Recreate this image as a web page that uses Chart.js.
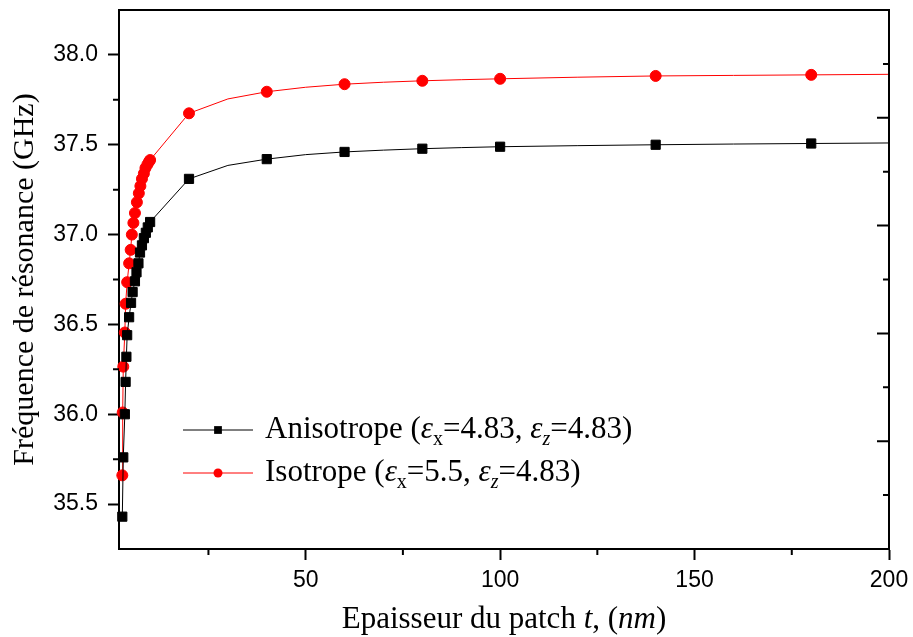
<!DOCTYPE html>
<html>
<head>
<meta charset="utf-8">
<title>Fréquence de résonance</title>
<script src="https://cdn.jsdelivr.net/npm/chart.js@4.4.1/dist/chart.umd.min.js"></script>
<style>
    html, body { margin: 0; padding: 0; background: #fff; }
    #wrap { width: 913px; height: 637px; }
</style>
</head>
<body>
<div id="wrap"><canvas id="chart"></canvas></div>
<script>
// épaisseur t (nm) / fréquence (GHz)
const T_ANISO = [2.85, 3.1, 3.5, 3.7, 3.9, 4.1, 4.6, 5.1, 5.5, 6.1, 6.5, 7.0, 7.4, 7.9, 8.4, 8.9, 9.4, 10,
    20, 30, 40, 50, 60, 70, 80, 90, 100, 120, 140, 160, 180, 200];
const F_ANISO = [35.43, 35.76, 36.00, 36.18, 36.32, 36.44, 36.54, 36.62, 36.68, 36.74, 36.79, 36.84, 36.90, 36.94, 36.98, 37.01, 37.04, 37.07,
    37.31, 37.385, 37.42, 37.445, 37.46, 37.47, 37.478, 37.484, 37.489, 37.495, 37.50, 37.504, 37.507, 37.51];

const T_ISO = [2.85, 2.95, 3.1, 3.5, 3.7, 4.1, 4.6, 5.0, 5.3, 5.7, 6.1, 6.6, 7.1, 7.5, 7.9, 8.4, 8.8, 9.3, 9.7, 10,
    20, 30, 40, 50, 60, 70, 80, 90, 100, 120, 140, 160, 180, 200];
const F_ISO = [35.66, 36.01, 36.265, 36.455, 36.615, 36.735, 36.84, 36.915, 37.0, 37.065, 37.12, 37.18, 37.23, 37.27, 37.31, 37.34, 37.37, 37.39, 37.405, 37.415,
    37.675, 37.755, 37.795, 37.82, 37.837, 37.848, 37.856, 37.862, 37.867, 37.876, 37.883, 37.886, 37.889, 37.892];

// points de la courbe sans symbole
const LINE_ONLY_T = [30, 50, 70, 90, 120, 160, 200];

const X_TICKS = [50, 100, 150, 200];
const Y_TICKS = [35.5, 36.0, 36.5, 37.0, 37.5, 38.0];
const X_MIN = 2, X_MAX = 200;
const Y_MIN = 35.25, Y_MAX = 38.25;

const Y_TITLE = 'Fréquence de résonance (GHz)';
const X_TITLE = [
    { text: 'Epaisseur du patch ' }, { text: 't', italic: true }, { text: ', (' },
    { text: 'nm', italic: true }, { text: ')' }
];
const LEGEND_ANISO = [
    { text: 'Anisotrope (' }, { text: 'ε', italic: true }, { text: 'x', sub: true }, { text: '=4.83, ' },
    { text: 'ε', italic: true }, { text: 'z', sub: true, italic: true }, { text: '=4.83)' }
];
const LEGEND_ISO = [
    { text: 'Isotrope (' }, { text: 'ε', italic: true }, { text: 'x', sub: true }, { text: '=5.5, ' },
    { text: 'ε', italic: true }, { text: 'z', sub: true, italic: true }, { text: '=4.83)' }
];

const SERIF = '"Liberation Serif", "Times New Roman", serif';
const SANS = '"Liberation Sans", Arial, sans-serif';

function toPoints(xs, ys) {
    return xs.map((x, i) => ({ x, y: ys[i] }));
}

function markerRadius(r) {
    return c => (c.raw && LINE_ONLY_T.includes(c.raw.x)) ? 0 : r;
}

function drawRich(ctx, segments, x, y, size, align) {
    const fontFor = seg => `${seg.italic ? 'italic ' : ''}${seg.sub ? Math.round(size * 0.65) : size}px ${SERIF}`;
    let width = 0;
    segments.forEach(seg => {
        ctx.font = fontFor(seg);
        width += ctx.measureText(seg.text).width;
    });
    let cx = align === 'center' ? x - width / 2 : x;
    ctx.textAlign = 'left';
    ctx.textBaseline = 'alphabetic';
    segments.forEach(seg => {
        ctx.font = fontFor(seg);
        ctx.fillText(seg.text, cx, seg.sub ? y + size * 0.22 : y);
        cx += ctx.measureText(seg.text).width;
    });
}

function minorValues(scale) {
    const majors = scale.ticks.map(t => t.value);
    const half = (majors[1] - majors[0]) / 2;
    const out = [];
    majors.forEach(v => {
        [v - half, v + half].forEach(m => {
            if (m > scale.min + 1e-6 && m < scale.max - 1e-6 && !out.some(o => Math.abs(o - m) < 1e-6)) out.push(m);
        });
    });
    return out;
}

const axesExtras = {
    id: 'axesExtras',
    afterDraw(chart) {
        const { ctx, chartArea: a, scales } = chart;
        ctx.save();
        ctx.strokeStyle = '#000';
        ctx.lineWidth = 2;

        // cadre haut et droit
        ctx.beginPath();
        ctx.moveTo(a.left - 1, a.top);
        ctx.lineTo(a.right, a.top);
        ctx.lineTo(a.right, a.bottom + 1);
        ctx.stroke();

        // graduations secondaires
        ctx.beginPath();
        minorValues(scales.x).forEach(v => {
            const p = scales.x.getPixelForValue(v);
            ctx.moveTo(p, a.bottom);
            ctx.lineTo(p, a.bottom + 6);
        });
        minorValues(scales.y).forEach(v => {
            const p = scales.y.getPixelForValue(v);
            ctx.moveTo(a.left - 6, p);
            ctx.lineTo(a.left, p);
        });
        // axe de droite, graduations vers l'intérieur
        scales.y2.ticks.forEach(t => {
            if (t.value <= scales.y2.min || t.value >= scales.y2.max) return;
            const p = scales.y2.getPixelForValue(t.value);
            const len = Number.isInteger(t.value) ? 12 : 6;
            ctx.moveTo(a.right - len, p);
            ctx.lineTo(a.right, p);
        });
        ctx.stroke();

        // titre de l'axe x
        ctx.fillStyle = '#000';
        drawRich(ctx, X_TITLE, (a.left + a.right) / 2, a.bottom + 79, 31, 'center');

        // légende
        const rows = [LEGEND_ANISO, LEGEND_ISO];
        chart.data.datasets.forEach((ds, i) => {
            const y = a.top + 420 + i * 43;
            const x0 = a.left + 64;
            ctx.strokeStyle = ds.borderColor;
            ctx.lineWidth = 1;
            ctx.beginPath();
            ctx.moveTo(x0, y);
            ctx.lineTo(x0 + 70, y);
            ctx.stroke();
            ctx.fillStyle = ds.backgroundColor;
            ctx.strokeStyle = ds.borderColor;
            Chart.helpers.drawPoint(ctx, {
                pointStyle: ds.pointStyle,
                radius: ds.pointStyle === 'rect' ? 5.5 : 4.5,
                rotation: 0,
                borderWidth: 0
            }, x0 + 35, y);
            ctx.fillStyle = '#000';
            drawRich(ctx, rows[i], x0 + 82, y + 8, 31, 'left');
        });
        ctx.restore();
    }
};

function renderChart() {
    const ctx = document.getElementById('chart');
    new Chart(ctx, {
        type: 'line',
        data: {
            datasets: [{
                label: 'Anisotrope (εx=4.83, εz=4.83)',
                data: toPoints(T_ANISO, F_ANISO),
                borderColor: '#000000',
                backgroundColor: '#000000',
                borderWidth: 1,
                pointStyle: 'rect',
                pointRadius: markerRadius(6.5),
                pointBorderWidth: 1,
                clip: false
            }, {
                label: 'Isotrope (εx=5.5, εz=4.83)',
                data: toPoints(T_ISO, F_ISO),
                borderColor: '#ff0000',
                backgroundColor: '#ff0000',
                borderWidth: 1,
                pointStyle: 'circle',
                pointRadius: markerRadius(5.5),
                pointBorderWidth: 1,
                clip: false
            }]
        },
        options: {
            responsive: true,
            maintainAspectRatio: false,
            animation: false,
            events: [],
            layout: { padding: { top: 10, right: 24, bottom: 0, left: 0 } },
            plugins: {
                legend: { display: false },
                tooltip: { enabled: false }
            },
            scales: {
                x: {
                    type: 'linear',
                    min: X_MIN,
                    max: X_MAX,
                    afterBuildTicks: s => { s.ticks = X_TICKS.map(value => ({ value })); },
                    afterFit: s => {
                        s.height = 88;
                        s.paddingLeft = 0;
                        s.paddingRight = 0;
                    },
                    ticks: {
                        autoSkip: false,
                        maxRotation: 0,
                        padding: 7,
                        color: '#000',
                        font: { family: SANS, size: 23 }
                    },
                    grid: { drawOnChartArea: false, tickLength: 11, tickWidth: 2, tickColor: '#000' },
                    border: { color: '#000', width: 2 }
                },
                y: {
                    type: 'linear',
                    min: Y_MIN,
                    max: Y_MAX,
                    afterBuildTicks: s => { s.ticks = Y_TICKS.map(value => ({ value })); },
                    afterFit: s => {
                        s.width = 119;
                        s.paddingTop = 0;
                        s.paddingBottom = 0;
                    },
                    ticks: {
                        autoSkip: false,
                        padding: 10,
                        color: '#000',
                        font: { family: SANS, size: 23 },
                        callback: v => v.toFixed(1)
                    },
                    title: {
                        display: true,
                        text: Y_TITLE,
                        color: '#000',
                        font: { family: SERIF, size: 30 },
                        padding: { top: 7, bottom: 0 }
                    },
                    grid: { drawOnChartArea: false, tickLength: 11, tickWidth: 2, tickColor: '#000' },
                    border: { color: '#000', width: 2 }
                },
                y2: {
                    type: 'linear',
                    position: 'right',
                    display: false,
                    min: 0,
                    max: 5,
                    ticks: { stepSize: 0.5 }
                }
            }
        },
        plugins: [axesExtras]
    });
}

window.addEventListener('DOMContentLoaded', renderChart);
</script>
</body>
</html>
